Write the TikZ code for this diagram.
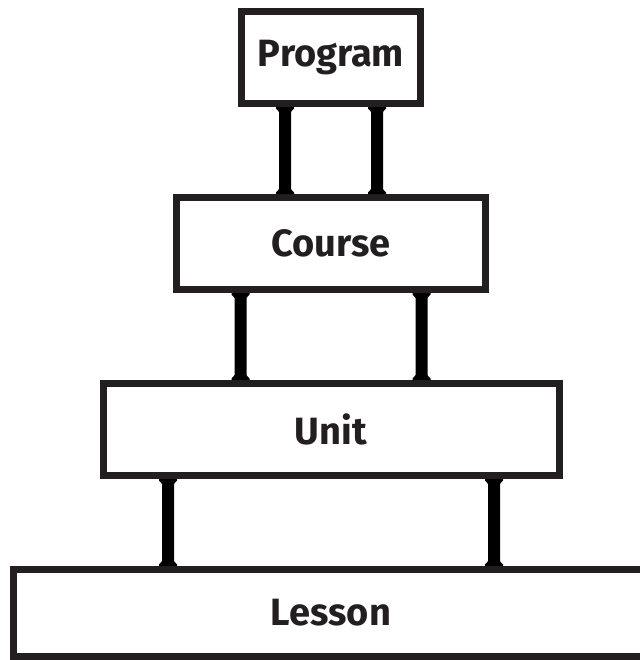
\documentclass[tikz,border=0pt]{standalone}
\usepackage{fontspec}
\setmainfont{Fira Sans}
\usetikzlibrary{positioning,calc}
\definecolor{boxline}{HTML}{231F20}

\begin{document}
\begin{tikzpicture}[
    node distance=43.5pt,
    level/.style={rectangle,draw=boxline,line width=3.5pt,minimum height=46pt,font=\fontsize{19}{22}\selectfont\bfseries,text=boxline,fill=white},
    pillar/.style={fill=black}
]

\useasboundingbox (0,0) rectangle (320pt,-330pt);
\clip (0,0) rectangle (320pt,-330pt);

\node[level,minimum width=89.5pt] (program) at (165.5pt,-28.75pt) {Program};
\node[level,minimum width=154.5pt,below=of program] (course) {Course};
\node[level,minimum width=228pt,below=of course] (unit) {Unit};
\node[level,minimum width=317.5pt,minimum height=43.5pt,below=of unit] (lesson) {Lesson};

% columns between the levels
\foreach \tnode/\bnode/\off in {program/course/23, course/unit/45.25, unit/lesson/81.5}{
  \foreach \s in {-1,1}{
    \coordinate (a) at ($(\tnode.south)+(\s*\off pt,0)$);
    \coordinate (b) at ($(\bnode.north)+(\s*\off pt,0)$);
    \fill[pillar] ($(a)+(-4.5pt,0)$) -- ($(a)+(4.5pt,0)$) -- ($(a)+(4.5pt,-0.8pt)$) -- ($(a)+(3pt,-2.4pt)$)
      -- ($(b)+(3pt,2.4pt)$) -- ($(b)+(4.5pt,0.8pt)$) -- ($(b)+(4.5pt,0)$) -- ($(b)+(-4.5pt,0)$)
      -- ($(b)+(-4.5pt,0.8pt)$) -- ($(b)+(-3pt,2.4pt)$) -- ($(a)+(-3pt,-2.4pt)$) -- ($(a)+(-4.5pt,-0.8pt)$) -- cycle;
  }
}

\end{tikzpicture}
\end{document}
